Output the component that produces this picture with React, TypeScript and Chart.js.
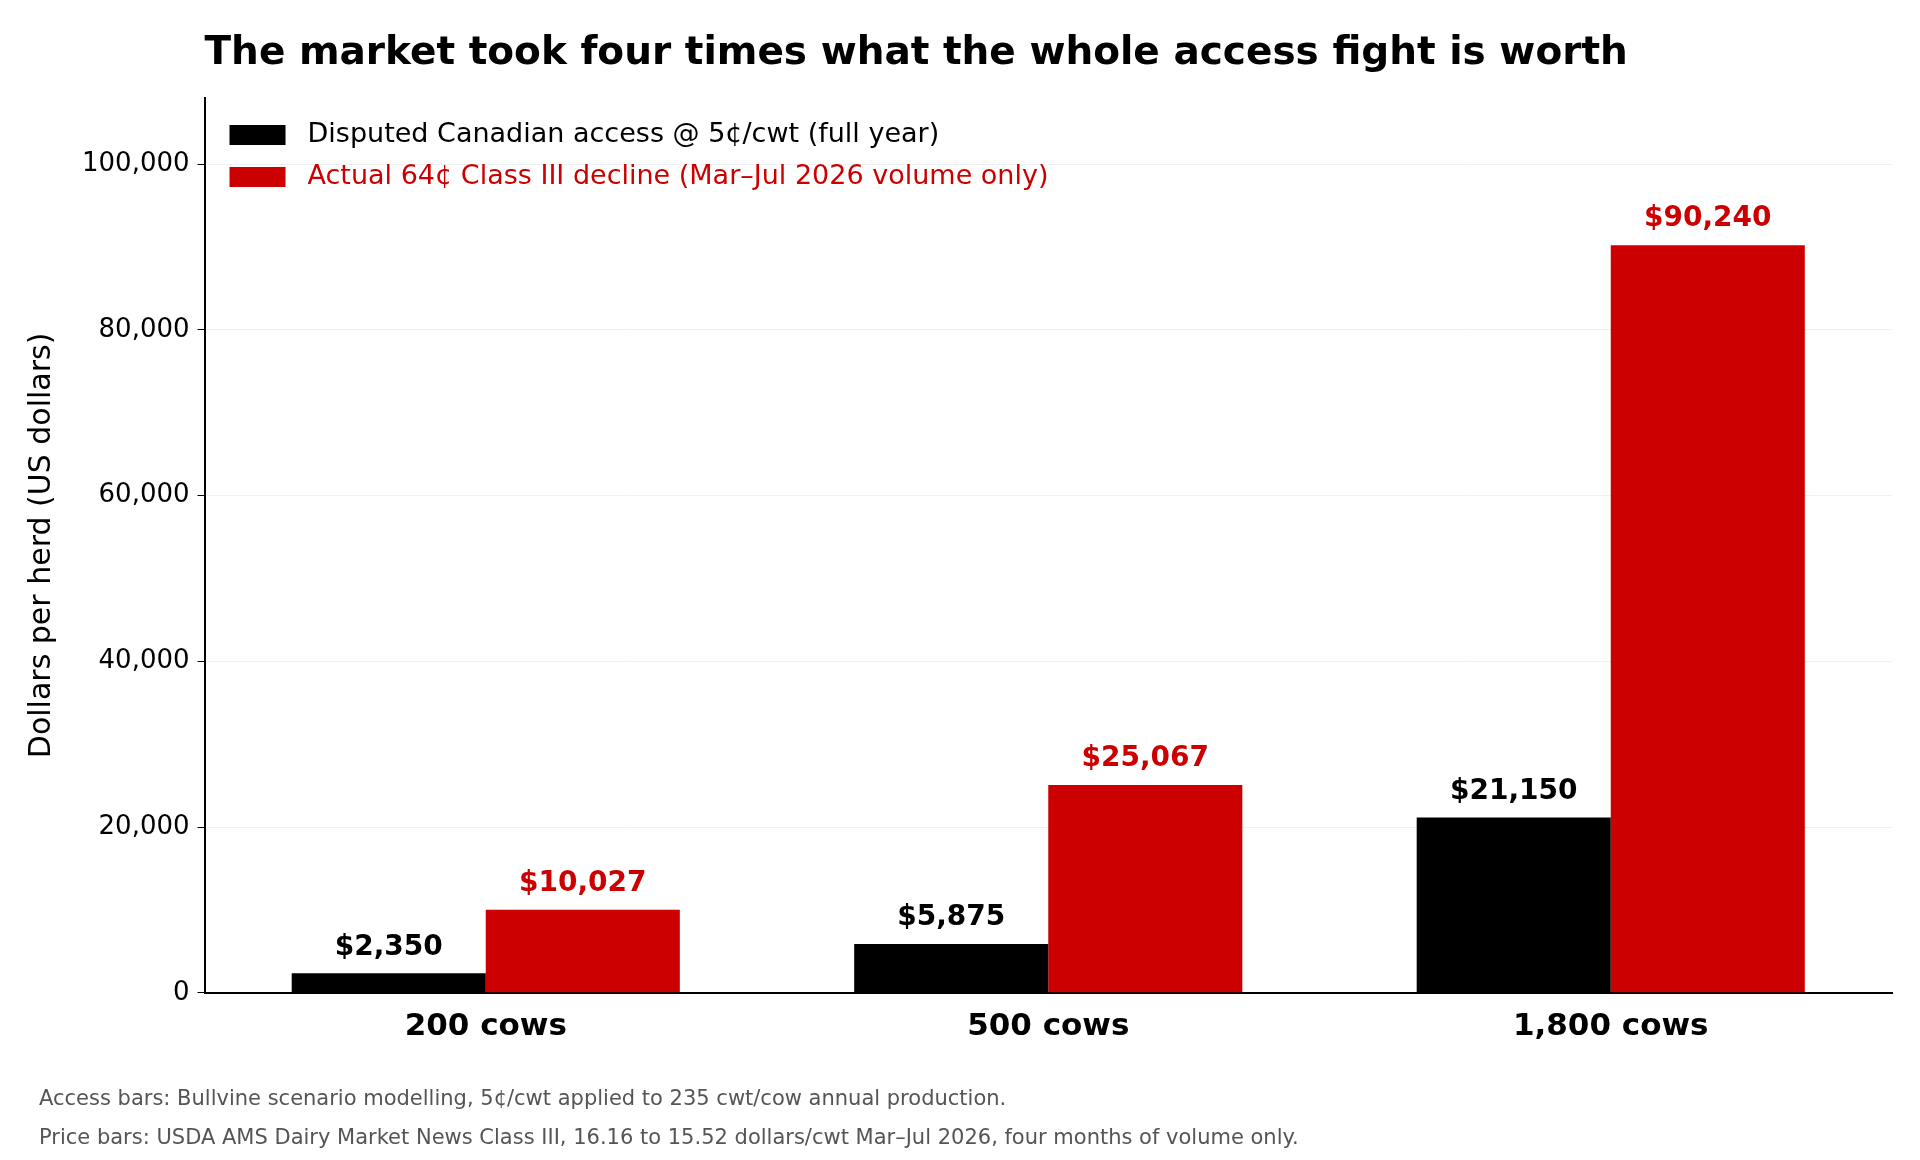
import React, { useEffect, useRef } from "react";
import { Chart, registerables } from "chart.js";
Chart.register(...registerables);

const categories = ["200 cows", "500 cows", "1,800 cows"];
const accessValues = [2350, 5875, 21150];
const priceValues = [10027, 25067, 90240];
const yTicks = [0, 20000, 40000, 60000, 80000, 100000];
const seriesNames = [
  "Disputed Canadian access @ 5¢/cwt (full year)",
  "Actual 64¢ Class III decline (Mar–Jul 2026 volume only)",
];
const colors = ["#000000", "#cc0000"];
const titleText = "The market took four times what the whole access fight is worth";
const notes = [
  "Access bars: Bullvine scenario modelling, 5¢/cwt applied to 235 cwt/cow annual production.",
  "Price bars: USDA AMS Dairy Market News Class III, 16.16 to 15.52 dollars/cwt Mar–Jul 2026, four months of volume only.",
];
const F = "'DejaVu Sans', sans-serif";

const overlay = {
  id: "overlay",
  afterDatasetsDraw(chart: any) {
    const { ctx, chartArea } = chart;
    ctx.save();
    chart.data.datasets.forEach((ds: any, di: number) => {
      const meta = chart.getDatasetMeta(di);
      meta.data.forEach((bar: any, i: number) => {
        ctx.fillStyle = colors[di];
        ctx.font = `bold 28px ${F}`;
        ctx.textAlign = "center";
        ctx.textBaseline = "bottom";
        ctx.fillText("$" + ds.data[i].toLocaleString("en-US"), bar.x, bar.y - 12);
      });
    });
    ctx.font = `27px ${F}`;
    ctx.textBaseline = "middle";
    ctx.textAlign = "left";
    seriesNames.forEach((n, i) => {
      const y = chartArea.top + 37 + i * 42;
      ctx.fillStyle = colors[i];
      ctx.fillRect(chartArea.left + 25, y - 10, 56, 20);
      ctx.fillText(n, chartArea.left + 103, y);
    });
    ctx.fillStyle = "#000";
    ctx.font = `bold 39px ${F}`;
    ctx.fillText(titleText, chartArea.left, 46);
    ctx.fillStyle = "#555";
    ctx.font = `21px ${F}`;
    notes.forEach((t, i) => ctx.fillText(t, 31, 1092 + i * 39));
    ctx.restore();
  },
};

export default function App() {
  const ref = useRef<HTMLCanvasElement>(null);
  useEffect(() => {
    const chart = new Chart(ref.current!, {
      type: "bar",
      data: {
        labels: categories,
        datasets: [
          { label: seriesNames[0], data: accessValues, backgroundColor: colors[0] },
          { label: seriesNames[1], data: priceValues, backgroundColor: colors[1] },
        ],
      },
      options: {
        animation: false,
        responsive: false,
        layout: { padding: { top: 90, left: 2, right: 20, bottom: 98 } },
        plugins: { legend: { display: false }, tooltip: { enabled: false } },
        datasets: { bar: { categoryPercentage: 0.69, barPercentage: 1 } },
        scales: {
          x: {
            grid: { display: false },
            border: { color: "#000", width: 2 },
            ticks: { color: "#000", font: { family: F, size: 31, weight: "bold" }, padding: 8 },
          },
          y: {
            min: 0,
            max: 108000,
            afterBuildTicks: (axis: any) => {
              axis.ticks = yTicks.map((v) => ({ value: v }));
            },
            grid: { color: "#f0f0f0", drawTicks: true, tickColor: "#000", tickLength: 7 },
            border: { color: "#000", width: 2 },
            ticks: {
              color: "#000",
              font: { family: F, size: 26 },
              padding: 8,
              callback: (v: any) => Number(v).toLocaleString("en-US"),
            },
            title: { display: true, text: "Dollars per herd (US dollars)", color: "#000", font: { family: F, size: 30 }, padding: 14 },
          },
        },
      } as any,
      plugins: [overlay],
    });
    return () => chart.destroy();
  }, []);
  return <canvas ref={ref} width={1904} height={1144} style={{ display: "block" }} />;
}
